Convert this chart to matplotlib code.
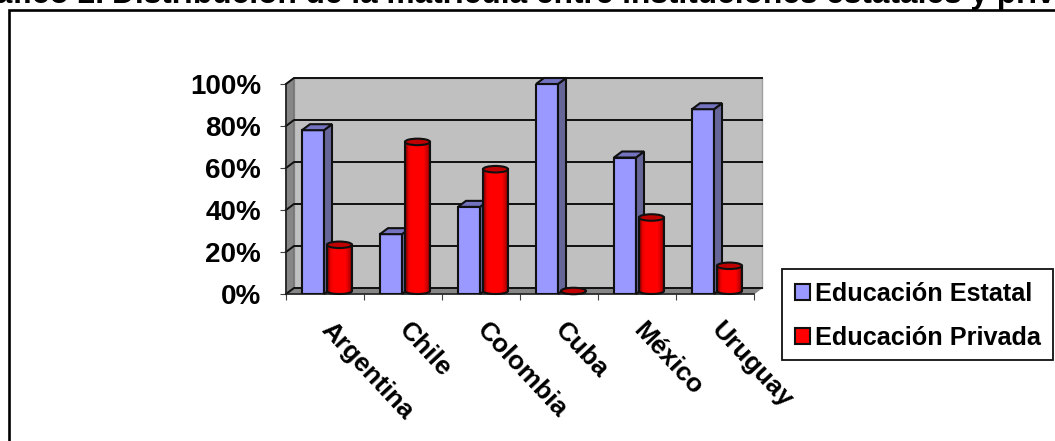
import numpy as np
import matplotlib
matplotlib.use('Agg')
import matplotlib.pyplot as plt
from matplotlib.colors import LinearSegmentedColormap
from matplotlib.lines import Line2D
from matplotlib.patches import Ellipse, Patch, Polygon, Rectangle

plt.rcParams['font.family'] = ['Liberation Sans', 'DejaVu Sans']

paises = ['Argentina', 'Chile', 'Colombia', 'Cuba', 'México', 'Uruguay']
estatal = [78, 28.5, 41.5, 100, 65, 88]
privada = [22, 71, 58, 0, 35, 12]
y_ticks = [0, 20, 40, 60, 80, 100]
titulo = 'Gráfico 2. Distribución de la matrícula entre instituciones estatales y privadas'

W, H = 1055, 441
fig = plt.figure(figsize=(W / 100, H / 100), dpi=100, facecolor='white')
ax = fig.add_axes([286 / W, 1 - 294 / H, 468 / W, 210 / H])
ax.set_facecolor('none')

# pixel sizes in data units
px = 1 / 78
py = 1 / 2.1
dx = 8 * px
dy = 6 * py
edge = '#101010'

# walls and floor
ax.add_patch(Polygon([(dx, dy), (6 + dx, dy), (6 + dx, 100 + dy), (dx, 100 + dy)],
                     fc='#c0c0c0', ec='#a0a0a0', lw=1, zorder=1, clip_on=False))
ax.add_patch(Polygon([(0, 0), (dx, dy), (dx, 100 + dy), (0, 100)],
                     fc='#868686', ec='#707070', lw=1, zorder=1, clip_on=False))
ax.add_patch(Polygon([(0, 0), (6, 0), (6 + dx, dy), (dx, dy)],
                     fc='#868686', ec='#808080', lw=0.5, zorder=1, clip_on=False))
for v in y_ticks:
    ax.plot([0, dx, 6 + dx], [v, v + dy, v + dy], color=edge, lw=1.4, zorder=2,
            clip_on=False, solid_joinstyle='miter')

x = np.arange(len(paises))
blue_off, blue_w = 16 * px, 22 * px
red_off, red_w = 41 * px, 25 * px

cmap = LinearSegmentedColormap.from_list('cyl', [(0, '#700000'), (0.15, '#f00000'), (0.3, '#ff0000'),
                                                 (0.75, '#ff0000'), (0.92, '#c00000'), (1, '#700000')])
grad = np.linspace(0, 1, 64).reshape(1, -1)
t = np.linspace(np.pi, 2 * np.pi, 40)

for i in x:
    # blue box
    left = i + blue_off
    top = estatal[i]
    ax.bar(left, top, blue_w, align='edge', color='#9999ff', edgecolor=edge, lw=1.5, zorder=3)
    r = left + blue_w
    ax.add_patch(Polygon([(r, 0), (r + dx, dy), (r + dx, top + dy), (r, top)],
                         fc='#666699', ec=edge, lw=1.5, zorder=3, clip_on=False))
    ax.add_patch(Polygon([(left, top), (r, top), (r + dx, top + dy), (left + dx, top + dy)],
                         fc='#7373bf', ec=edge, lw=1.5, zorder=3, clip_on=False))

    # red cylinder
    left = i + red_off
    cx = left + red_w / 2
    base = 3 * py
    top = privada[i] + base
    if privada[i] > 0:
        bx = cx + red_w / 2 * np.cos(t)
        by = base + 3 * py * np.sin(t)
        pts = list(zip(bx, by)) + [(left + red_w, top), (left, top)]
        body = Polygon(pts, fc='none', ec=edge, lw=1.5, zorder=5, clip_on=False)
        ax.add_patch(body)
        im = ax.imshow(grad, extent=(left, left + red_w, -1, top), aspect='auto', cmap=cmap,
                       zorder=4, clip_on=True)
        im.set_clip_path(body)
    ax.add_patch(Ellipse((cx, top), red_w, 6.5 * py, fc='#c00000', ec=edge, lw=1.5,
                         zorder=6, clip_on=False))

ax.set_xlim(0, 6)
ax.set_ylim(0, 100)
for s in ['top', 'right']:
    ax.spines[s].set_visible(False)
for s in ['left', 'bottom']:
    ax.spines[s].set_color('#202020')
    ax.spines[s].set_linewidth(1.2)
    ax.spines[s].set_zorder(2.5)

ax.set_yticks(y_ticks)
ax.set_yticklabels([f'{v}%' for v in y_ticks], fontsize=20, fontweight='bold')
ax.tick_params(axis='y', length=4, width=0.8, color='#404040', pad=14)
ax.set_xticks(range(7))
ax.set_xticklabels([])
ax.tick_params(axis='x', which='major', length=4, width=0.8, color='#404040')
ax.set_xticks(x + 0.5, minor=True)
ax.set_xticklabels(paises, minor=True, fontsize=19, fontweight='bold', rotation=-47,
                   rotation_mode='anchor', ha='left', va='center')
ax.tick_params(axis='x', which='minor', length=0, pad=23)

# legend box drawn on its own so the entries can sit where they do in the reference
fig.add_artist(Rectangle((782 / W, 1 - 360 / H), 271 / W, 91 / H, transform=fig.transFigure,
                         fc='white', ec=edge, lw=1.3))
handles = [Patch(fc='#9999ff', ec=edge, lw=1.5), Patch(fc='#ff0000', ec=edge, lw=1.5)]
leg = fig.legend(handles, ['Educación Estatal', 'Educación Privada'],
                 loc='lower left', bbox_to_anchor=(782 / W, 1 - 363.5 / H), bbox_transform=fig.transFigure,
                 frameon=False, borderaxespad=0, borderpad=0.52, handlelength=0.6, handleheight=0.6,
                 handletextpad=0.2, labelspacing=0.82,
                 prop={'family': 'Liberation Sans', 'weight': 'bold', 'size': 18.2})
leg.set_zorder(5)

# outer frame, left and top only reach the crop
fig.add_artist(Line2D([9 / W, 9 / W, 1], [0, 1 - 10 / H, 1 - 10 / H], color='black', lw=1.9,
                      solid_joinstyle='miter'))
# title runs past both edges of the crop in the original
fig.text(112 / W, 1 - 3 / H, titulo[11:], fontsize=22.8, fontweight='bold', ha='left', va='baseline')
fig.text(104 / W, 1 - 3 / H, titulo[:10], fontsize=22.8, fontweight='bold', ha='right', va='baseline')

fig.savefig('out.png', dpi=100)
